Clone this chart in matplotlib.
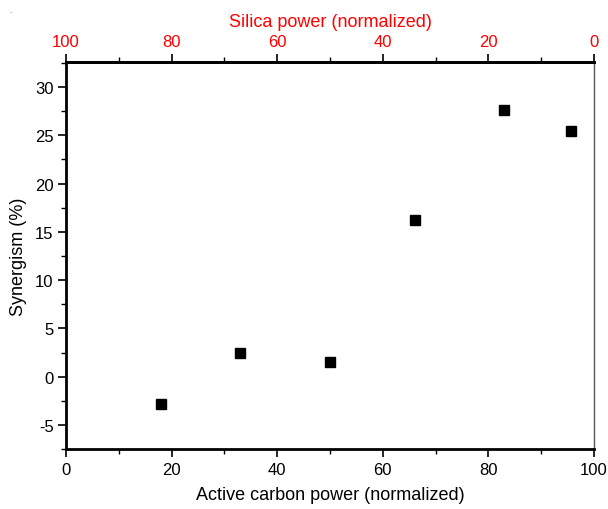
import matplotlib.pyplot as plt
from matplotlib.ticker import MultipleLocator, FixedLocator

plt.rcParams['font.family'] = ['Liberation Sans', 'DejaVu Sans']
plt.rcParams['axes.unicode_minus'] = False

# Active carbon power (normalized) and synergism (%)
carbon = [18.0, 33.0, 50.0, 66.1, 83.0, 95.6]
synergism = [-2.8, 2.4, 1.5, 16.2, 27.6, 25.5]
top_ticks = [0, 20, 40, 60, 80, 100]

fig = plt.figure(figsize=(6.08, 5.10), dpi=100)
ax = fig.add_axes([0.1086, 0.1176, 0.8684, 0.7589])

ax.plot(carbon, synergism, 's', color='black', markersize=7, linestyle='none')

ax.set_xlim(0, 100)
ax.set_ylim(-7.5, 32.6)
ax.xaxis.set_major_locator(MultipleLocator(20))
ax.xaxis.set_minor_locator(MultipleLocator(10))
ax.yaxis.set_major_locator(MultipleLocator(5))
ax.yaxis.set_minor_locator(MultipleLocator(2.5))
ax.tick_params(axis='both', which='major', direction='out', length=6, width=1.2, labelsize=12, pad=3)
ax.tick_params(axis='both', which='minor', direction='out', length=3.5, width=1.0)
ax.tick_params(top=False, right=False)

for s in ['left', 'bottom', 'top']:
    ax.spines[s].set_linewidth(2)
ax.spines['right'].set_linewidth(1)
ax.spines['right'].set_color('#555555')

ax.set_xlabel('Active carbon power (normalized)', fontsize=13, labelpad=7)
ax.set_ylabel('Synergism (%)', fontsize=13, labelpad=6)

# top axis: silica power = 100 - carbon power
sec = ax.secondary_xaxis('top', functions=(lambda x: 100 - x, lambda x: 100 - x))
sec.xaxis.set_major_locator(FixedLocator(top_ticks))
sec.xaxis.set_minor_locator(FixedLocator([10, 30, 50, 70, 90]))
sec.tick_params(which='major', direction='out', length=6, width=1.2, labelsize=12, labelcolor='red', pad=3)
sec.tick_params(which='minor', direction='out', length=3.5, width=1.0)
sec.spines['top'].set_linewidth(2)
sec.set_xlabel('Silica power (normalized)', fontsize=13, color='red', labelpad=6)

fig.text(0.016, 0.975, '.', fontsize=6, color='#555555')

fig.savefig('out.png', dpi=100)
